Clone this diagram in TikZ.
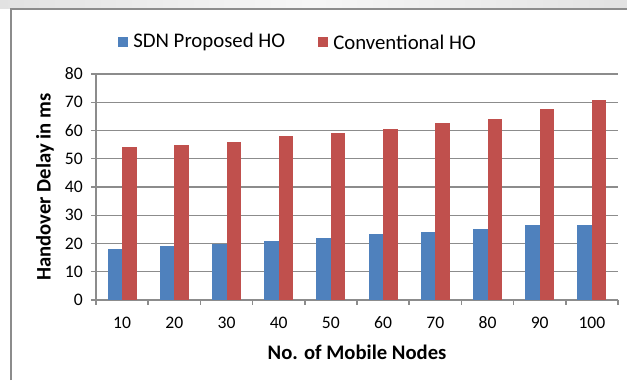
\documentclass[tikz,border=0pt]{standalone}
\usepackage{fontspec}
\setmainfont{Carlito}
\definecolor{sdnblue}{HTML}{4F81BD}
\definecolor{convred}{HTML}{C0504D}
\definecolor{gridgray}{HTML}{8C8C8C}
\definecolor{bandgray}{HTML}{E2E2E2}
\begin{document}
\begin{tikzpicture}[x=0.75pt,y=-0.75pt,
  gridline/.style={draw=gridgray,line width=1.1pt},
  framestyle/.style={draw=gridgray,line width=1.2pt},
  ticklabel/.style={font=\fontsize{13.2}{15}\selectfont,inner sep=0pt},
  axistitle/.style={font=\fontsize{15.5}{18}\selectfont\bfseries,inner sep=0pt},
  legendtext/.style={font=\fontsize{15.6}{18}\selectfont,inner sep=0pt,anchor=west},
  legendkey/.style={minimum size=8.2pt,inner sep=0pt,draw=none}]
\useasboundingbox (0,0) rectangle (627,380);
\fill[white] (0,0) rectangle (627,380);
% faded band above the frame
\shade[left color=bandgray,right color=bandgray,middle color=white!70!bandgray] (0,0) rectangle (627,8);
% outer frame
\draw[framestyle] (11,380) -- (11,9) -- (627,9);

% horizontal grid lines with their labels and ticks
\foreach \v in {0,10,...,80}{
  \pgfmathsetmacro{\yy}{300-\v*2.825}
  \draw[gridline] (91,\yy) -- (618,\yy);
  \node[ticklabel,anchor=east] (yl\v) at (83,\yy) {\v};
}
% y axis
\draw[gridline] (96,74) -- (96,300);
% category ticks on the x axis
\foreach \k in {0,...,10}{
  \pgfmathsetmacro{\xx}{96+\k*52.2}
  \draw[gridline] (\xx,300) -- (\xx,305);
}

% bars
\foreach \b [count=\i] in {18,19,20,21,22,23.3,24,25.2,26.4,26.7}{
  \pgfmathsetmacro{\cx}{96+(\i-0.5)*52.2}
  \pgfmathsetmacro{\yt}{300-\b*2.825}
  \fill[sdnblue] (\cx-14.5,300) rectangle (\cx,\yt);
}
\foreach \b [count=\i] in {54,55,56,58,59,60.7,62.8,64.2,67.7,70.7}{
  \pgfmathsetmacro{\cx}{96+(\i-0.5)*52.2}
  \pgfmathsetmacro{\yt}{300-\b*2.825}
  \fill[convred] (\cx,300) rectangle (\cx+14.5,\yt);
}

% category labels
\foreach \n [count=\i] in {10,20,...,100}{
  \pgfmathsetmacro{\cx}{96+(\i-0.5)*52.2}
  \node[ticklabel] (xl\i) at (\cx,323) {\n};
}

% axis titles
\node[axistitle] (xtitle) at (357,352) {No. of Mobile Nodes};
\node[axistitle,rotate=90] (ytitle) at (45,187) {Handover Delay in ms};

% legend
\node[legendkey,fill=sdnblue] (keysdn) at (123,42) {};
\node[legendtext] (txtsdn) at (133,42) {SDN Proposed HO};
\node[legendkey,fill=convred] (keyconv) at (323,42) {};
\node[legendtext] (txtconv) at (333,42) {Conventional HO};
\end{tikzpicture}
\end{document}
